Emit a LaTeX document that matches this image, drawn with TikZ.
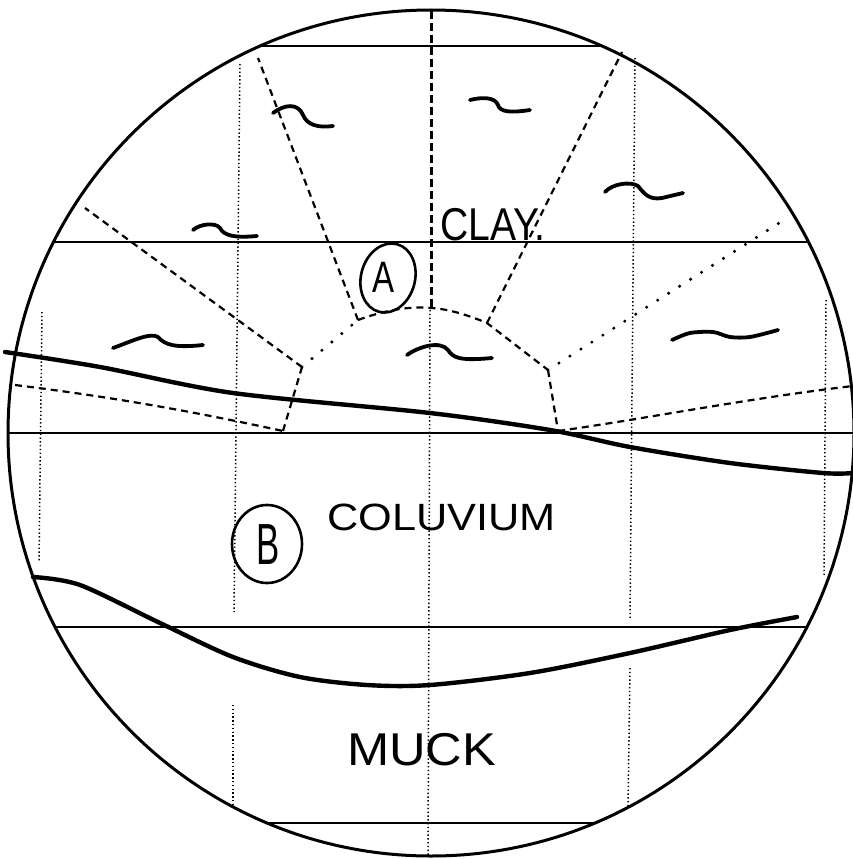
\documentclass[tikz,border=0pt]{standalone}
\usepackage{fontspec}
\setmainfont{Liberation Sans}
\begin{document}
\begin{tikzpicture}[x=1pt,y=-1pt,
  outline/.style={line width=3pt},
  bed/.style={line width=1.6pt},
  contact/.style={line width=4.4pt,line cap=round,line join=round},
  fanline/.style={line width=2.2pt,dash pattern=on 7pt off 5pt},
  axisdash/.style={line width=3pt,dash pattern=on 8pt off 4pt},
  gridline/.style={line width=1.5pt,dash pattern=on 1.4pt off 2.4pt},
  beads/.style={line width=3.4pt,line cap=round,dash pattern=on 0pt off 13pt},
  squig/.style={line width=3.8pt,line cap=round,line join=round},
  ring/.style={line width=2.6pt},
  hand/.style={inner sep=0pt,anchor=base west}
]
\useasboundingbox (0,0) rectangle (853,859);
\coordinate (C) at (431,433);

% horizontal bedding lines, cut by the outline
\begin{scope}
  \clip (C) circle[radius=423pt];
  \foreach \yy in {46,242,433,627,823}
    \draw[bed] (0,\yy) -- (853,\yy);
\end{scope}
\draw[outline] (C) circle[radius=423pt];

% faint vertical reference lines
\draw[gridline] (42,312) -- (39,562);
\draw[gridline] (240,64) -- (234,612);
\draw[gridline] (233,705) -- (233,805);
\draw[gridline] (430,310) -- (428,855);
\draw[gridline] (635,58) -- (630,618);
\draw[gridline] (630,668) -- (628,807);
\draw[gridline] (826,300) -- (824,577);

% fan of zone A
\coordinate (pL) at (283,431);
\coordinate (p1) at (302,367);
\coordinate (p2) at (358,320);
\coordinate (p3) at (431,308);
\coordinate (p4) at (487,323);
\coordinate (p5) at (548,370);
\coordinate (pR) at (558,431);
\coordinate (o1) at (85,208);
\coordinate (o2) at (258,58);
\coordinate (o3) at (431,11);
\coordinate (o4) at (622,52);
\coordinate (o5) at (787,218);
\coordinate (eL) at (15,385);
\coordinate (eR) at (853,386);

\draw[axisdash] (o3) -- (p3);
\draw[fanline] (p1) -- (o1);
\draw[fanline] (p2) -- (o2);
\draw[fanline] (p4) -- (o4);
\draw[beads] (p5) -- (o5);
\draw[beads] (p1) -- (p2);
\draw[fanline] (p2) .. controls (385,310) and (410,306) .. (p3)
               .. controls (450,309) and (470,316) .. (p4) -- (p5);
\draw[fanline] (pL) -- (p1);
\draw[fanline] (p5) -- (pR);
\draw[fanline] (eL) .. controls (120,398) and (200,413) .. (pL);
\draw[fanline] (pR) .. controls (650,418) and (750,398) .. (eR);

% geological contacts
\draw[contact] plot[smooth] coordinates {(5,352) (100,367) (233,393) (430,413)
  (550,430) (630,447) (730,463) (823,473) (853,473)};
\draw[contact] plot[smooth] coordinates {(33,577) (80,585) (160,623) (233,657)
  (300,677) (367,685) (430,685) (530,673) (630,653) (730,630) (797,617)};

% clay symbols
\draw[squig] (273,113) .. controls (285,104) and (298,103) .. (303,115)
             .. controls (307,125) and (318,128) .. (333,126);
\draw[squig] (470,100) .. controls (482,97) and (495,97) .. (498,105)
             .. controls (500,112) and (510,113) .. (530,110);
\draw[squig] (605,192) .. controls (612,184) and (630,181) .. (638,186)
             .. controls (645,195) and (650,200) .. (662,198) -- (683,193);
\draw[squig] (193,230) .. controls (200,224) and (215,222) .. (220,228)
             .. controls (224,236) and (235,238) .. (257,236);
\draw[squig] (113,348) .. controls (130,342) and (150,332) .. (158,337)
             .. controls (165,345) and (175,348) .. (203,345);
\draw[squig] (407,355) .. controls (418,347) and (440,340) .. (448,350)
             .. controls (453,358) and (460,361) .. (492,358);
\draw[squig] plot[smooth] coordinates {(672,340) (690,333) (713,332) (730,337) (750,337) (778,330)};

% labels
\draw[ring, rotate around={-15:(388,278)}] (388,278) ellipse[x radius=27, y radius=35];
\node[inner sep=0pt] (zoneA) at (384,277) {\scalebox{0.75}[1]{\fontsize{44}{44}\selectfont A}};
\draw[ring] (267,544) ellipse[x radius=35, y radius=39];
\node[inner sep=0pt] (zoneB) at (268,545) {\scalebox{0.6}[1]{\fontsize{58}{58}\selectfont B}};
\node[hand] (clay) at (440,240) {\scalebox{0.85}[1]{\fontsize{46}{46}\selectfont CLAY.}};
\node[hand] (colluvium) at (327,530) {\scalebox{1.14}[1]{\fontsize{38}{38}\selectfont COLUVIUM}};
\node[hand] (muck) at (347,765) {\scalebox{1.1}[1]{\fontsize{46}{46}\selectfont MUCK}};
\end{tikzpicture}
\end{document}
